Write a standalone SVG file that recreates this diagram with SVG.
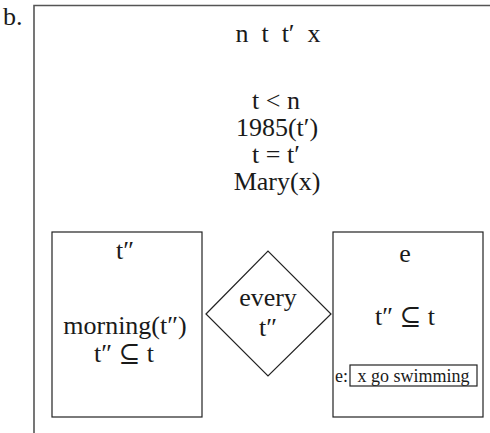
<svg xmlns="http://www.w3.org/2000/svg" width="490" height="433" viewBox="0 0 490 433">
<style>
text{font-family:"Liberation Serif","DejaVu Serif",serif;fill:#1a1a1a;text-anchor:middle;font-size:26px}
.box{fill:none;stroke:#222;stroke-width:1.2}
.outer{fill:none;stroke:#555;stroke-width:1.6}
.sm{font-size:18px}
.st{text-anchor:start}
</style>
<rect width="490" height="433" fill="#fff"/>
<text class="st" x="3" y="25" font-size="25">b.</text>
<g id="outer">
<path class="outer" d="M34,433 V5.5 H491"/>
<text x="278" y="42" xml:space="preserve">n  t  t′  x</text>
<text x="276" y="109">t &lt; n</text>
<text x="277" y="136">1985(t′)</text>
<text x="276" y="163">t = t′</text>
<text x="277" y="190">Mary(x)</text>
</g>
<g id="left-box">
<rect class="box" x="52" y="232" width="150" height="185"/>
<text x="125" y="259">t″</text>
<text x="125" y="334">morning(t″)</text>
<text x="124" y="362">t″ ⊆ t</text>
</g>
<g id="diamond">
<polygon class="box" points="206,314 268,251 331,314 268,376"/>
<text x="268" y="306">every</text>
<text x="268" y="336">t″</text>
</g>
<g id="right-box">
<rect class="box" x="333" y="232" width="150" height="185"/>
<text x="405" y="262">e</text>
<text x="405" y="325">t″ ⊆ t</text>
<text class="sm st" x="335" y="382">e:</text>
<rect class="box" x="350" y="365" width="127" height="21"/>
<text class="sm" x="413.5" y="382">x go swimming</text>
</g>
<g id="connectors"></g>
</svg>
